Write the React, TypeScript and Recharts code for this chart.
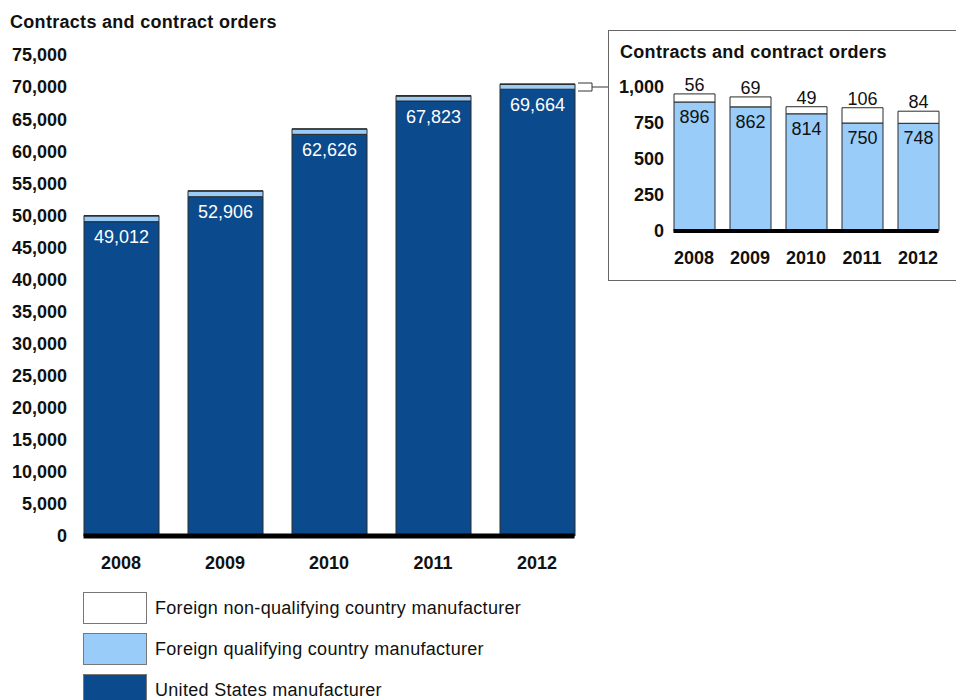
import { BarChart, Bar, XAxis, YAxis, LabelList, ReferenceLine } from 'recharts';

const years = ['2008', '2009', '2010', '2011', '2012'];
const usManufacturer = [49012, 52906, 62626, 67823, 69664];
const foreignQualifying = [896, 862, 814, 750, 748];
const foreignNonQualifying = [56, 69, 49, 106, 84];
const mainTicks = [0, 5000, 10000, 15000, 20000, 25000, 30000, 35000, 40000, 45000, 50000, 55000, 60000, 65000, 70000, 75000];
const insetTicks = [0, 250, 500, 750, 1000];

const legendItems = [
  { label: 'Foreign non-qualifying country manufacturer', color: '#ffffff' },
  { label: 'Foreign qualifying country manufacturer', color: '#99ccf8' },
  { label: 'United States manufacturer', color: '#0b4a8c' },
];

const data = years.map((year, i) => ({
  year,
  us: usManufacturer[i],
  qual: foreignQualifying[i],
  nonQual: foreignNonQualifying[i],
}));

const FONT = 'Arial, "Liberation Sans", sans-serif';
const DARK = '#0b4a8c';
const LIGHT = '#99ccf8';
const EDGE = '#2a2a2a';

const fmt = (v: any) => Number(v).toLocaleString('en-US');

const tickStyle = { fill: '#111', fontSize: 18, fontWeight: 'bold' as const, fontFamily: FONT };

// thick baseline trimmed to the outer edges of the bars
const baseline = (trim: number, width: number) => (p: any) => (
  <line x1={p.x1 + trim} x2={p.x2 - trim} y1={p.y1} y2={p.y2} stroke="#000" strokeWidth={width} />
);

export default function App() {
  return (
    <div style={{ position: 'absolute', left: 0, top: 0, width: 956, height: 700, overflow: 'hidden', background: '#fff', fontFamily: FONT }}>
      <div style={{ position: 'absolute', left: 10, top: 12, fontSize: 18, fontWeight: 'bold', lineHeight: '20px', letterSpacing: 0.3, color: '#111' }}>
        Contracts and contract orders
      </div>

      {/* Main chart */}
      <div style={{ position: 'absolute', left: 0, top: 0 }}>
        <BarChart width={600} height={600} data={data} margin={{ top: 55, right: 11, bottom: 34, left: 0 }} barSize={75}>
          <XAxis dataKey="year" axisLine={false} tickLine={false} tickSize={0} tickMargin={20} height={30} tick={tickStyle} />
          <YAxis
            domain={[0, 75000]}
            ticks={mainTicks}
            interval={0}
            width={69}
            axisLine={false}
            tickLine={false}
            tickSize={0}
            tickMargin={2}
            tick={tickStyle}
            tickFormatter={fmt}
          />
          <Bar dataKey="us" stackId="a" fill={DARK} stroke={EDGE} strokeWidth={1} isAnimationActive={false}>
            <LabelList dataKey="us" position="insideTop" offset={9} fill="#fff" fontSize={18} fontFamily={FONT} formatter={fmt} />
          </Bar>
          <Bar dataKey="qual" stackId="a" fill={LIGHT} stroke={EDGE} strokeWidth={1} isAnimationActive={false} />
          <Bar dataKey="nonQual" stackId="a" fill="#fff" stroke={EDGE} strokeWidth={1} isAnimationActive={false} />
          <ReferenceLine y={0} shape={baseline(14.5, 5)} />
        </BarChart>
      </div>

      {/* connector from 2012 bar to inset */}
      <svg width={956} height={700} style={{ position: 'absolute', left: 0, top: 0, pointerEvents: 'none' }}>
        <path d="M578 83 H592 V91 H578" fill="none" stroke="#333" strokeWidth={1} />
        <path d="M592 87 H608" fill="none" stroke="#333" strokeWidth={1} />
      </svg>

      {/* Inset box */}
      <div style={{ position: 'absolute', left: 608, top: 30, width: 360, height: 251, boxSizing: 'border-box', border: '1px solid #666' }} />
      <div style={{ position: 'absolute', left: 620, top: 42, fontSize: 18, fontWeight: 'bold', lineHeight: '20px', letterSpacing: 0.3, color: '#111' }}>
        Contracts and contract orders
      </div>
      <div style={{ position: 'absolute', left: 608, top: 30 }}>
        <BarChart width={348} height={250} data={data} margin={{ top: 57, right: 10, bottom: 19, left: 0 }} barSize={41}>
          <XAxis dataKey="year" axisLine={false} tickLine={false} tickSize={0} tickMargin={20} height={30} tick={tickStyle} />
          <YAxis
            domain={[0, 1000]}
            ticks={insetTicks}
            interval={0}
            width={58}
            axisLine={false}
            tickLine={false}
            tickSize={0}
            tickMargin={2}
            tick={tickStyle}
            tickFormatter={fmt}
          />
          <Bar dataKey="qual" stackId="b" fill={LIGHT} stroke={EDGE} strokeWidth={1} isAnimationActive={false}>
            <LabelList dataKey="qual" position="insideTop" offset={8} fill="#111" fontSize={18} fontFamily={FONT} />
          </Bar>
          <Bar dataKey="nonQual" stackId="b" fill="#fff" stroke={EDGE} strokeWidth={1} isAnimationActive={false}>
            <LabelList dataKey="nonQual" position="top" offset={3} fill="#111" fontSize={18} fontFamily={FONT} />
          </Bar>
          <ReferenceLine y={0} shape={baseline(7.5, 4)} />
        </BarChart>
      </div>

      {/* Legend */}
      {legendItems.map((item, i) => (
        <div key={item.label} style={{ position: 'absolute', left: 83, top: 592 + i * 41, display: 'flex', alignItems: 'center' }}>
          <div style={{ width: 64, height: 32, boxSizing: 'border-box', border: '1px solid #777', background: item.color }} />
          <span style={{ marginLeft: 8, fontSize: 18, color: '#111', lineHeight: '20px', letterSpacing: 0.3 }}>{item.label}</span>
        </div>
      ))}
    </div>
  );
}
